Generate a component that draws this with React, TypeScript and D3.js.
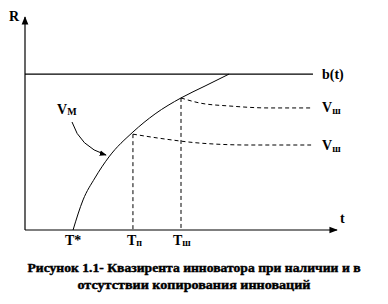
import React from "react";
import * as d3 from "d3";

// Main quasi-rent curve V_M (t, R)
const curveT = [1.54, 1.86, 2.24, 2.69, 3.46, 4.17, 5.0, 5.77, 6.54];
const curveR = [0, 1.41, 2.44, 3.43, 4.6, 5.45, 6.2, 6.76, 7.32];
// Upper dashed (copying starts at T2)
const upperT = [5.0, 5.61, 6.57, 7.85, 9.17];
const upperR = [6.2, 5.96, 5.82, 5.73, 5.73];
// Lower dashed (copying starts at T1)
const lowerT = [3.46, 4.49, 5.61, 7.21, 9.17];
const lowerR = [4.5, 4.27, 4.08, 3.99, 3.99];
const bLevel = 7.32;
const bEnd = 9.23;
const tStar = 1.54;
const t1 = 3.46;
const t2 = 5.0;
const captionLines = [
  "Рисунок 1.1- Квазирента инноватора при наличии  и в",
  "отсутствии копирования  инноваций",
];
const captionWidths = [333, 233];

export default function App() {
  const W = 388, H = 304;
  const x = d3.scaleLinear().domain([0, 10]).range([25, 337]);
  const y = d3.scaleLinear().domain([0, 10]).range([230, 17]);
  const line = d3.line<[number, number]>().x(d => x(d[0])).y(d => y(d[1])).curve(d3.curveMonotoneX);
  const main = curveT.map((t, i) => [t, curveR[i]] as [number, number]);
  const up = upperT.map((t, i) => [t, upperR[i]] as [number, number]);
  const lo = lowerT.map((t, i) => [t, lowerR[i]] as [number, number]);
  const tf: React.CSSProperties = { fontFamily: '"Liberation Serif", "DejaVu Serif", serif', fontWeight: 700 };
  const yT1 = y(lowerR[0]);
  const yT2 = y(upperR[0]);
  return (
    <svg width={W} height={H} style={{ position: "absolute", left: 0, top: 0, background: "#fff" }}>
      <defs>
        <marker id="ah" viewBox="0 0 10 10" refX="9" refY="5" markerWidth="7" markerHeight="7" orient="auto">
          <path d="M0,1 L10,5 L0,9 Z" fill="#000" />
        </marker>
      </defs>
      {/* axes */}
      <line x1={x(0)} y1={y(0)} x2={x(0)} y2={y(10)} stroke="#000" strokeWidth={1.2} markerEnd="url(#ah)" />
      <line x1={x(0)} y1={y(0)} x2={x(10)} y2={y(0)} stroke="#000" strokeWidth={1.2} markerEnd="url(#ah)" />
      <text x={9} y={21} fontSize={14} style={tf}>R</text>
      <text x={340} y={223} fontSize={14} style={tf}>t</text>
      {/* b(t) */}
      <line x1={x(0)} y1={y(bLevel)} x2={x(bEnd)} y2={y(bLevel)} stroke="#000" strokeWidth={1.2} />
      <text x={322} y={79} fontSize={14} style={tf}>b(t)</text>
      {/* main curve */}
      <path d={line(main) || ""} fill="none" stroke="#000" strokeWidth={1} />
      {/* dashed */}
      <path d={line(up) || ""} fill="none" stroke="#000" strokeWidth={1} strokeDasharray="4,3" />
      <path d={line(lo) || ""} fill="none" stroke="#000" strokeWidth={1} strokeDasharray="4,3" />
      <line x1={x(t1)} y1={yT1} x2={x(t1)} y2={y(0)} stroke="#000" strokeWidth={1} strokeDasharray="4,3" />
      <line x1={x(t2)} y1={yT2} x2={x(t2)} y2={y(0)} stroke="#000" strokeWidth={1} strokeDasharray="4,3" />
      {/* right labels */}
      <text x={322} y={112} fontSize={14} style={tf}>V<tspan fontSize={10} dy={2}>ш</tspan></text>
      <text x={322} y={150} fontSize={14} style={tf}>V<tspan fontSize={10} dy={2}>ш</tspan></text>
      {/* V_M label and arrow */}
      <text x={57} y={114} fontSize={14} style={tf}>V<tspan fontSize={10} dy={1}>М</tspan></text>
      <path d="M72,122 Q80,147 106,155" fill="none" stroke="#000" strokeWidth={1} markerEnd="url(#ah)" />
      {/* bottom labels */}
      <text x={x(tStar)} y={245} fontSize={14} style={tf} textAnchor="middle">T*</text>
      <text x={x(t1) - 6} y={245} fontSize={14} style={tf}>T<tspan fontSize={10} dy={1}>п</tspan></text>
      <text x={x(t2) - 8} y={245} fontSize={14} style={tf}>T<tspan fontSize={10} dy={1}>ш</tspan></text>
      {/* caption */}
      {captionLines.map((s, i) => (
        <text key={i} x={194} y={272 + i * 17} fontSize={12} textLength={captionWidths[i]} lengthAdjust="spacingAndGlyphs"
          style={{ ...tf, stroke: "#000", strokeWidth: 0.4 }} textAnchor="middle">{s}</text>
      ))}
    </svg>
  );
}
